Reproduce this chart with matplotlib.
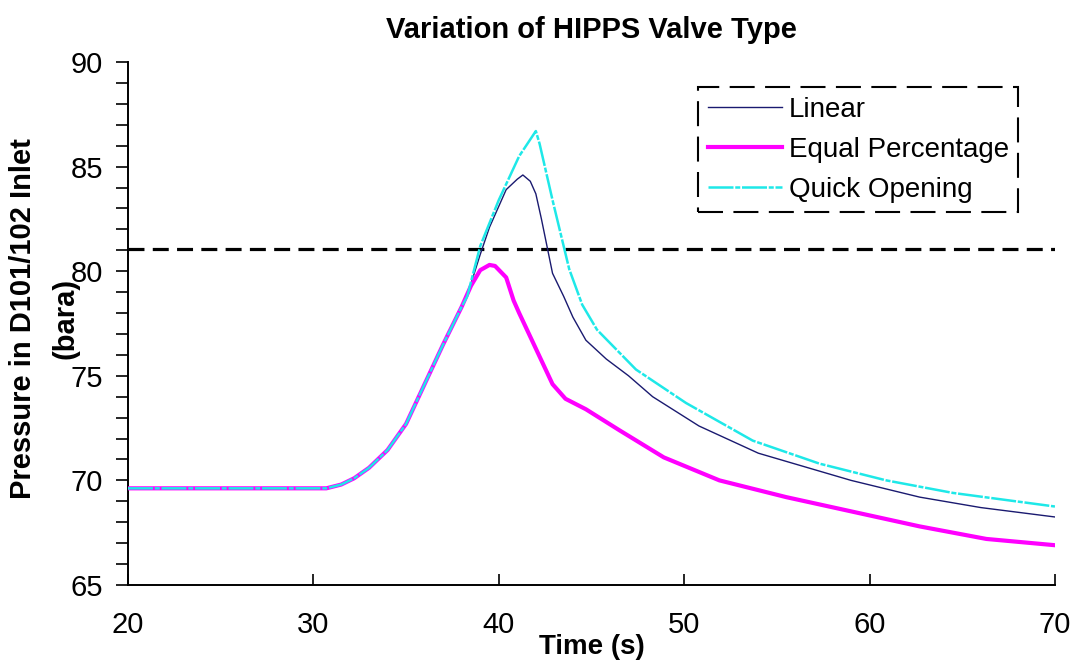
import numpy as np
import matplotlib.pyplot as plt
from matplotlib.ticker import MultipleLocator

plt.rcParams['font.family'] = ['Liberation Sans', 'DejaVu Sans']

t_linear = [20, 30.7, 31.5, 32.2, 33, 34, 35, 36, 37, 38, 38.5, 39, 39.5, 40, 40.4,
            41, 41.3, 41.7, 42, 42.3, 42.6, 42.9, 43.5, 44, 44.7, 45.8, 47, 48.3,
            50.8, 54, 59, 62.7, 66, 70]
p_linear = [69.62, 69.62, 69.8, 70.1, 70.6, 71.45, 72.7, 74.6, 76.5, 78.3, 79.4, 80.8,
            82.1, 83.1, 83.9, 84.4, 84.6, 84.3, 83.7, 82.5, 81.2, 79.9, 78.8, 77.8,
            76.7, 75.8, 75.0, 74.0, 72.6, 71.3, 70.0, 69.2, 68.7, 68.25]

t_equal = [20, 30.7, 31.5, 32.2, 33, 34, 35, 36, 37, 38, 38.5, 39, 39.5, 39.8, 40.4,
           40.8, 41.1, 42, 42.9, 43.6, 44.7, 46.5, 48.9, 51.9, 55.5, 59.1, 62.7,
           66.3, 70]
p_equal = [69.62, 69.62, 69.8, 70.1, 70.6, 71.45, 72.7, 74.6, 76.5, 78.3, 79.3, 80.05,
           80.3, 80.25, 79.7, 78.6, 78.0, 76.3, 74.6, 73.9, 73.4, 72.4, 71.1, 70.0,
           69.2, 68.5, 67.8, 67.2, 66.9]

t_quick = [20, 30.7, 31.5, 32.2, 33, 34, 35, 36, 37, 38, 38.3, 39, 40, 41.1, 42,
           42.2, 42.9, 43.5, 43.8, 44.5, 45.3, 47.4, 50.1, 53.7, 57.3, 60.9, 64.5, 70]
p_quick = [69.62, 69.62, 69.8, 70.1, 70.6, 71.45, 72.7, 74.6, 76.5, 78.3, 78.8, 81.2,
           83.4, 85.5, 86.7, 86.1, 83.4, 81.2, 80.1, 78.4, 77.2, 75.3, 73.7, 71.9,
           70.8, 70.0, 69.4, 68.75]

limit = 81.05

fig = plt.figure(figsize=(10.71, 6.67), dpi=100)
ax = fig.add_axes([0.1195, 0.123, 0.8655, 0.784])

ax.axhline(limit, color='black', lw=2.3, ls=(0, (5, 2.6)), zorder=2)
ax.plot(t_linear, p_linear, color='#1a1a70', lw=1.0, label='Linear', zorder=3)
ax.plot(t_equal, p_equal, color='#ff00ff', lw=3, label='Equal Percentage', zorder=4)
ax.plot(t_quick, p_quick, color='#1ee8e8', lw=1.8, ls=(0, (10, 0.7, 2, 0.7)),
        label='Quick Opening', zorder=5)

ax.set_xlim(20, 70)
ax.set_ylim(65, 90)
ax.xaxis.set_major_locator(MultipleLocator(10))
ax.yaxis.set_major_locator(MultipleLocator(5))
ax.yaxis.set_minor_locator(MultipleLocator(1))
ax.tick_params(axis='x', direction='in', length=8, width=1.2, labelsize=21, pad=19)
ax.tick_params(axis='y', which='both', direction='out', length=9, width=1.2,
               labelsize=21, pad=9)
for s in ['top', 'right']:
    ax.spines[s].set_visible(False)
for s in ['left', 'bottom']:
    ax.spines[s].set_linewidth(1.4)

ax.set_title('Variation of HIPPS Valve Type', fontsize=21, fontweight='bold', pad=17)
ax.set_xlabel('Time (s)', fontsize=20, fontweight='bold', labelpad=-4)
fig.text(0.0215, 0.523, 'Pressure in D101/102 Inlet', rotation=90, fontsize=21,
         fontweight='bold', ha='center', va='center')
fig.text(0.0607, 0.523, '(bara)', rotation=90, fontsize=21,
         fontweight='bold', ha='center', va='center')

leg = ax.legend(loc='upper left', bbox_to_anchor=(0.615, 0.952), fontsize=20,
                fancybox=False, framealpha=1, edgecolor='black',
                handlelength=2.66, handletextpad=0.25, labelspacing=0.5,
                borderpad=0.35, borderaxespad=0)
leg.get_frame().set_linestyle((0, (12, 5)))
leg.get_frame().set_linewidth(1.5)

fig.savefig('out.png', dpi=100, facecolor='white')
